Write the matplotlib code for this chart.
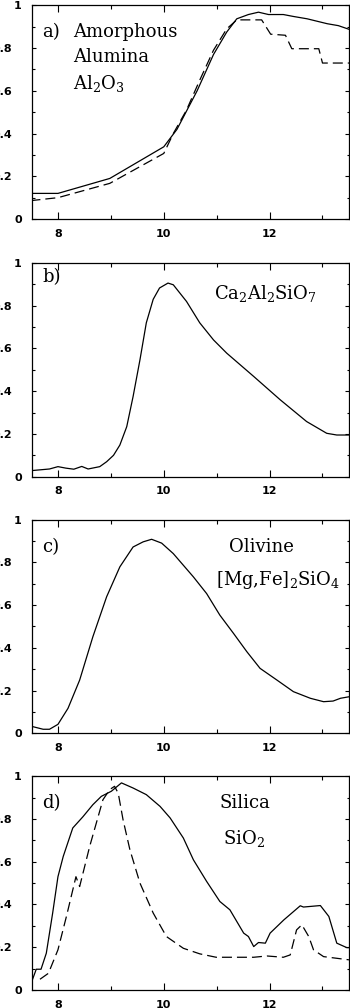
import matplotlib
matplotlib.use("Agg")
import matplotlib.pyplot as plt
from matplotlib.ticker import MultipleLocator

plt.rcParams["mathtext.fontset"] = "dejavuserif"

# a) amorphous alumina
a_solid_x = [7.48, 8.0, 8.98, 10.0, 10.25, 10.63, 10.94, 11.19, 11.38, 11.6, 11.79,
             11.98, 12.26, 12.45, 12.71, 13.09, 13.3, 13.5]
a_solid_y = [0.12, 0.12, 0.19, 0.338, 0.42, 0.60, 0.77, 0.875, 0.937, 0.957, 0.968,
             0.957, 0.957, 0.948, 0.937, 0.914, 0.905, 0.888]
a_dash_x = [7.48, 8.0, 8.98, 10.0, 10.18, 10.43, 10.68, 10.94, 11.19, 11.38, 11.85,
            12.02, 12.3, 12.42, 12.93, 13.0, 13.5]
a_dash_y = [0.086, 0.10, 0.167, 0.307, 0.40, 0.51, 0.65, 0.79, 0.89, 0.932, 0.932,
            0.865, 0.86, 0.797, 0.797, 0.73, 0.73]

# b) Ca2Al2SiO7
b_x = [7.48, 7.84, 8.0, 8.15, 8.3, 8.45, 8.57, 8.79, 8.92, 9.05, 9.17, 9.3, 9.42,
       9.55, 9.67, 9.8, 9.92, 10.08, 10.18, 10.43, 10.68, 10.94, 11.19, 11.7, 12.2,
       12.7, 13.08, 13.27, 13.5]
b_y = [0.028, 0.036, 0.047, 0.040, 0.035, 0.048, 0.036, 0.047, 0.07, 0.10, 0.148,
       0.234, 0.375, 0.547, 0.72, 0.83, 0.883, 0.906, 0.898, 0.82, 0.72, 0.64, 0.578,
       0.469, 0.36, 0.258, 0.203, 0.195, 0.195]

# c) olivine
c_x = [7.48, 7.72, 7.84, 8.0, 8.19, 8.41, 8.66, 8.92, 9.17, 9.42, 9.61, 9.77, 9.96,
       10.18, 10.56, 10.81, 11.06, 11.32, 11.57, 11.82, 12.14, 12.45, 12.77, 13.02,
       13.2, 13.34, 13.5]
c_y = [0.034, 0.019, 0.019, 0.042, 0.117, 0.249, 0.452, 0.639, 0.779, 0.872, 0.896,
       0.908, 0.89, 0.841, 0.732, 0.654, 0.553, 0.467, 0.382, 0.304, 0.249, 0.195,
       0.164, 0.148, 0.151, 0.164, 0.171]

# d) silica
d_solid_x = [7.48, 7.59, 7.68, 7.78, 7.9, 8.0, 8.1, 8.28, 8.47, 8.66, 8.82, 9.01,
             9.2, 9.42, 9.67, 9.93, 10.12, 10.37, 10.56, 10.81, 11.06, 11.25, 11.51,
             11.6, 11.7, 11.79, 11.92, 12.01, 12.27, 12.58, 12.64, 12.96, 13.12,
             13.27, 13.46, 13.5]
d_solid_y = [0.023, 0.097, 0.097, 0.172, 0.36, 0.53, 0.625, 0.758, 0.81, 0.867,
             0.906, 0.93, 0.969, 0.945, 0.914, 0.859, 0.805, 0.711, 0.609, 0.508,
             0.414, 0.375, 0.266, 0.25, 0.203, 0.222, 0.219, 0.266, 0.328, 0.394,
             0.388, 0.395, 0.344, 0.219, 0.198, 0.198]
d_dash_x = [7.66, 7.82, 8.0, 8.16, 8.34, 8.41, 8.6, 8.85, 8.98, 9.07, 9.14, 9.23,
            9.36, 9.55, 9.8, 10.05, 10.37, 10.68, 10.99, 11.32, 11.7, 11.95, 12.26,
            12.39, 12.51, 12.61, 12.74, 12.83, 13.02, 13.5]
d_dash_y = [0.05, 0.078, 0.188, 0.344, 0.53, 0.484, 0.672, 0.89, 0.938, 0.953, 0.92,
            0.797, 0.656, 0.5, 0.36, 0.25, 0.195, 0.169, 0.153, 0.153, 0.153, 0.159,
            0.153, 0.164, 0.281, 0.305, 0.25, 0.188, 0.156, 0.141]

DASH = (0, (8, 4))
TXT = dict(fontsize=13, family="DejaVu Serif", transform=None)


def style_axes(ax):
    ax.set_xlim(7.5, 13.5)
    ax.set_ylim(0, 1)
    ax.xaxis.set_major_locator(MultipleLocator(2))
    ax.xaxis.set_minor_locator(MultipleLocator(1))
    ax.yaxis.set_major_locator(MultipleLocator(0.2))
    ax.yaxis.set_minor_locator(MultipleLocator(0.1))
    ax.tick_params(which="both", direction="in", top=True, right=True, width=0.8)
    ax.tick_params(axis="x", which="major", length=5, pad=7)
    ax.tick_params(axis="x", which="minor", length=2.8)
    ax.tick_params(axis="y", which="major", length=3.2, pad=7)
    ax.tick_params(axis="y", which="minor", length=1.8)
    ax.set_yticks([0, 0.2, 0.4, 0.6, 0.8, 1.0])
    ax.set_yticklabels(["0", "0.2", "0.4", "0.6", "0.8", "1"])
    for lab in ax.get_xticklabels() + ax.get_yticklabels():
        lab.set_fontweight("bold")
        lab.set_fontsize(8)
    # decimal labels sit further out, as in the original
    for t in ax.yaxis.get_major_ticks()[1:5]:
        t.set_pad(14)
    for s in ax.spines.values():
        s.set_linewidth(0.9)


fig = plt.figure(figsize=(3.5, 10.08), dpi=100)
left, width, height = 0.09, 0.907, 0.212
bottoms = [0.7827, 0.5271, 0.2725, 0.0179]
axes = [fig.add_axes([left, b, width, height]) for b in bottoms]
for ax in axes:
    style_axes(ax)

ax = axes[0]
ax.plot(a_solid_x, a_solid_y, color="black", lw=0.9)
ax.plot(a_dash_x, a_dash_y, color="black", lw=0.9, linestyle=DASH)
kw = dict(fontsize=13, family="DejaVu Serif", transform=ax.transAxes, va="center")
ax.text(0.035, 0.875, "a)", **kw)
ax.text(0.13, 0.875, "Amorphous", **kw)
ax.text(0.13, 0.758, "Alumina", **kw)
ax.text(0.13, 0.635, r"Al$_2$O$_3$", **kw)

ax = axes[1]
ax.plot(b_x, b_y, color="black", lw=0.9)
kw["transform"] = ax.transAxes
ax.text(0.035, 0.935, "b)", **kw)
ax.text(0.736, 0.857, r"Ca$_2$Al$_2$SiO$_7$", ha="center", **kw)

ax = axes[2]
ax.plot(c_x, c_y, color="black", lw=0.9)
kw["transform"] = ax.transAxes
ax.text(0.035, 0.872, "c)", **kw)
ax.text(0.725, 0.872, "Olivine", ha="center", **kw)
ax.text(0.778, 0.716, r"[Mg,Fe]$_2$SiO$_4$", ha="center", **kw)

ax = axes[3]
ax.plot(d_solid_x, d_solid_y, color="black", lw=0.9)
ax.plot(d_dash_x, d_dash_y, color="black", lw=0.9, linestyle=DASH)
kw["transform"] = ax.transAxes
ax.text(0.035, 0.875, "d)", **kw)
ax.text(0.673, 0.875, "Silica", ha="center", **kw)
ax.text(0.668, 0.711, r"SiO$_2$", ha="center", **kw)

fig.savefig("out.png", dpi=100)
